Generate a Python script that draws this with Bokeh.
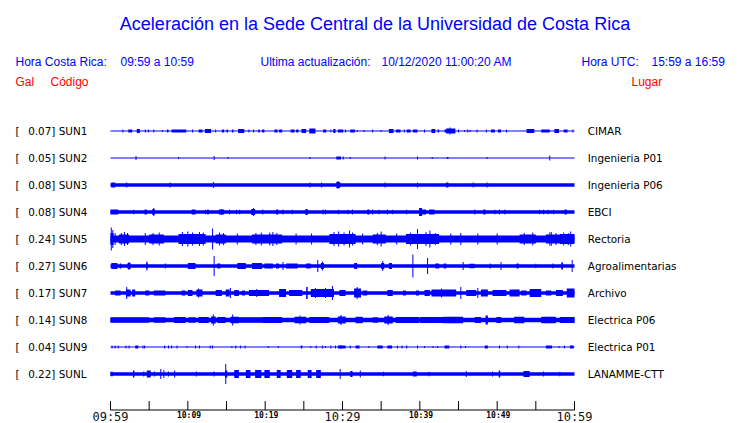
from bokeh.plotting import figure
from bokeh.models import Range1d
from bokeh.core.properties import value
from bokeh.embed import file_html
from bokeh.resources import INLINE

# ---------------- data ----------------
CODES = ["SUN1", "SUN2", "SUN3", "SUN4", "SUN5", "SUN6", "SUN7", "SUN8", "SUN9", "SUNL"]
PEAK_GAL = [0.07, 0.05, 0.08, 0.08, 0.24, 0.27, 0.17, 0.14, 0.04, 0.22]
PLACES = ["CIMAR", "Ingenieria P01", "Ingenieria P06", "EBCI", "Rectoria",
          "Agroalimentarias", "Archivo", "Electrica P06", "Electrica P01", "LANAMME-CTT"]
# background noise band (full trace amplitude, display px)
BASE_AMP = [1, 1, 3.5, 3.5, 7, 3.5, 3.5, 4.5, 1, 3.5]

# bursts: (start minute, end minute, full amplitude) ; minutes after 09:59
BURSTS_SUN1 = [(1.6, 1.6, 3), (2.3, 2.8, 3), (3.4, 3.8, 4), (4.5, 4.5, 3), (4.9, 4.9, 3), (5.6, 5.6, 3),
               (6.7, 6.7, 2), (7.3, 7.5, 3), (7.9, 9.8, 3), (10.6, 10.6, 3), (11.4, 11.9, 3), (12.2, 13.0, 4),
               (13.6, 13.6, 3), (14.4, 14.7, 3), (15.0, 15.2, 3), (15.7, 15.9, 3), (16.5, 17.3, 4), (17.9, 17.9, 3),
               (18.5, 18.5, 3), (19.1, 19.3, 3), (19.6, 19.9, 3), (21.2, 21.6, 3), (21.8, 22.2, 3), (23.3, 23.8, 3),
               (24.0, 24.3, 3), (24.7, 25.3, 4), (25.7, 26.5, 5), (27.5, 27.9, 3), (28.5, 28.5, 3), (28.8, 29.1, 4),
               (29.4, 30.1, 3), (30.4, 30.4, 3), (31.0, 31.6, 3), (31.9, 31.9, 2), (32.8, 32.8, 2), (33.9, 33.9, 3),
               (35.0, 35.0, 2), (36.0, 36.6, 4), (36.9, 37.5, 3), (38.0, 38.0, 3), (38.3, 38.8, 3), (39.1, 39.7, 3),
               (40.6, 40.6, 3), (41.5, 42.0, 4), (42.3, 42.5, 3), (43.2, 43.4, 3), (43.4, 44.6, 5), (43.9, 43.9, 7),
               (45.0, 45.0, 3), (45.8, 45.8, 2), (46.2, 46.2, 3), (46.5, 46.5, 2), (47.4, 47.4, 3), (48.6, 48.6, 3),
               (49.2, 49.7, 3), (50.1, 50.5, 3), (51.2, 51.2, 3), (53.8, 54.8, 4), (55.7, 56.8, 3), (57.4, 58.0, 4),
               (58.6, 59.1, 3), (59.8, 59.8, 3)]
BURSTS_SUN2 = [(3.3, 3.3, 4), (8.8, 8.8, 2), (13.4, 13.4, 4), (15.2, 15.2, 2), (25.8, 25.8, 2), (29.2, 29.8, 3),
               (30.1, 30.1, 3), (31.0, 31.0, 2), (35.5, 35.5, 3), (39.7, 39.7, 3), (41.6, 41.6, 2), (43.5, 43.7, 2),
               (48.7, 48.7, 2), (56.8, 56.8, 5)]
BURSTS_SUN3 = [(0.1, 0.6, 5), (2.1, 2.1, 5), (7.7, 7.7, 5), (13.3, 13.3, 6), (25.8, 25.8, 5), (27.3, 27.3, 5),
               (29.2, 29.7, 6), (29.4, 29.4, 8), (35.5, 35.5, 5), (39.7, 39.7, 5), (43.4, 43.7, 5), (46.9, 46.9, 5),
               (48.7, 48.7, 5)]
BURSTS_SUN4 = [(0.0, 1.0, 5), (3.0, 3.0, 4.5), (4.4, 4.7, 5), (5.4, 5.7, 6), (5.6, 5.6, 8), (10.5, 11.0, 5),
               (12.3, 12.3, 4.5), (12.5, 12.7, 5), (14.0, 14.7, 5), (14.4, 14.4, 6), (15.4, 15.4, 5), (16.3, 16.3, 4.5),
               (16.7, 16.7, 4.5), (18.2, 18.7, 6), (18.5, 18.5, 8), (19.7, 19.7, 5), (21.4, 21.7, 5), (22.3, 22.3, 5),
               (23.5, 23.5, 4.5), (25.2, 25.5, 6), (27.5, 27.5, 5), (27.8, 27.8, 5), (29.5, 29.5, 4.5), (30.7, 30.7, 4.5),
               (31.3, 31.3, 5), (33.2, 33.5, 5), (33.9, 33.9, 5), (34.7, 34.7, 4.5), (35.8, 35.8, 5), (36.5, 36.5, 4.5),
               (38.3, 38.3, 4.5), (39.9, 40.3, 8), (40.3, 40.8, 5), (41.2, 41.9, 5), (47.1, 47.1, 5), (48.2, 48.5, 5),
               (49.7, 49.7, 4.5), (50.3, 50.3, 5), (51.0, 51.0, 5), (55.5, 55.5, 4.5), (56.0, 56.0, 4.5),
               (56.6, 56.6, 4.5), (57.3, 57.3, 4.5), (58.7, 59.0, 5)]
BURSTS_SUN5 = [(0.0, 0.4, 12), (0.1, 0.1, 23), (0.3, 0.3, 18), (0.6, 0.6, 12), (1.1, 2.4, 9), (1.8, 1.8, 14),
               (1.4, 1.4, 12), (2.2, 2.2, 12), (4.5, 4.5, 12), (5.0, 6.9, 9), (5.5, 5.5, 12), (6.3, 6.3, 13),
               (8.8, 12.3, 10), (9.3, 9.3, 14), (10.0, 10.0, 15), (10.6, 10.6, 13), (11.5, 11.5, 14),
               (12.0, 12.0, 13), (13.2, 13.2, 21), (13.6, 14.9, 9), (14.1, 14.1, 13), (14.6, 14.6, 12),
               (16.4, 16.4, 11), (18.3, 20.0, 9), (18.8, 18.8, 12), (19.5, 19.5, 13), (20.0, 22.2, 9),
               (20.6, 20.6, 13), (21.0, 21.0, 14), (21.5, 21.5, 12), (24.0, 24.0, 11), (26.0, 26.0, 11),
               (28.3, 31.7, 10), (28.9, 28.9, 14), (29.5, 29.5, 15), (30.2, 30.2, 13), (30.9, 30.9, 17),
               (31.3, 31.3, 13), (32.6, 32.6, 11), (33.9, 35.6, 9), (34.5, 34.5, 12), (35.0, 35.0, 15),
               (37.0, 37.0, 11), (38.2, 40.3, 10), (38.8, 38.8, 13), (39.7, 39.7, 20), (40.3, 42.5, 10),
               (40.8, 40.8, 14), (41.3, 41.3, 17), (42.0, 42.0, 12), (44.0, 44.0, 11), (45.3, 45.3, 12),
               (47.5, 47.5, 11), (50.0, 50.0, 11), (52.9, 55.0, 9), (53.5, 53.5, 12), (54.6, 54.6, 13),
               (56.3, 58.1, 9), (56.8, 56.8, 13), (57.0, 57.0, 14), (57.6, 57.6, 12), (58.1, 60.0, 10),
               (58.6, 58.6, 13), (59.2, 59.2, 12), (59.5, 59.5, 15)]
BURSTS_SUN6 = [(0.1, 0.9, 6), (1.2, 1.4, 5), (2.2, 2.6, 6), (2.4, 2.4, 8), (4.6, 4.8, 6), (4.7, 4.7, 9),
               (7.1, 7.1, 5), (10.0, 11.0, 6), (13.4, 13.4, 20), (13.8, 14.2, 5), (16.4, 17.5, 6), (18.3, 19.6, 6),
               (19.9, 21.0, 5), (21.4, 21.8, 5), (22.3, 22.3, 8), (22.7, 24.2, 5), (25.3, 25.9, 5), (26.8, 26.8, 12),
               (27.2, 27.6, 6), (27.4, 27.4, 9), (31.5, 31.9, 6), (35.0, 35.4, 6), (35.2, 35.2, 10), (36.0, 36.4, 6),
               (39.1, 39.1, 23), (41.0, 41.0, 16), (42.0, 42.5, 5), (43.1, 43.4, 5), (45.6, 45.6, 8),
               (46.4, 47.1, 4.5), (49.1, 49.1, 5), (50.5, 50.5, 8), (52.5, 52.8, 5), (55.0, 55.0, 4.5),
               (57.2, 57.2, 5), (58.3, 58.5, 6), (58.4, 58.4, 8), (59.7, 59.7, 12)]
BURSTS_SUN7 = [(0.6, 1.3, 5), (2.0, 2.6, 7), (2.1, 2.1, 12), (2.8, 3.2, 7), (4.5, 5.0, 5), (5.6, 7.1, 5),
               (9.2, 9.7, 5), (10.0, 10.6, 6), (11.1, 11.9, 7), (11.4, 11.4, 9), (13.6, 14.4, 6), (14.9, 15.4, 7),
               (15.5, 15.5, 10), (16.0, 16.6, 6), (17.0, 17.4, 5), (17.9, 20.0, 6), (18.9, 18.9, 8), (19.7, 20.5, 6),
               (21.8, 22.7, 8), (23.1, 24.8, 6), (25.3, 25.5, 12), (25.9, 28.9, 8), (26.5, 26.5, 10), (27.8, 27.8, 10),
               (28.7, 28.7, 14), (29.6, 30.4, 6), (31.5, 32.4, 9), (31.9, 31.9, 12), (32.6, 33.2, 5), (35.8, 36.5, 6),
               (37.8, 38.2, 5), (39.5, 39.9, 5), (40.6, 41.3, 6), (41.5, 44.7, 7), (42.8, 42.8, 9), (45.3, 45.3, 12),
               (46.0, 47.3, 6), (47.5, 47.5, 10), (47.9, 48.8, 7), (49.4, 51.2, 6), (51.6, 52.9, 7), (53.1, 53.8, 5),
               (54.2, 55.7, 8), (56.3, 57.0, 5), (57.6, 58.5, 6), (59.0, 60.0, 9)]
BURSTS_SUN8 = [(0.0, 5.0, 5.5), (5.6, 7.1, 5.5), (8.2, 9.7, 6), (10.1, 11.0, 5.5), (11.4, 12.7, 6), (13.0, 13.6, 7),
               (13.3, 13.3, 11), (13.8, 14.9, 6), (15.5, 16.6, 6.5), (15.8, 15.8, 11), (16.6, 20.0, 5.5),
               (19.7, 22.2, 6), (23.8, 25.3, 6.5), (24.5, 24.5, 9), (25.7, 28.3, 6), (29.4, 30.4, 7), (29.8, 29.8, 10),
               (31.7, 32.6, 6.5), (33.9, 34.6, 5.5), (35.4, 36.5, 7), (35.9, 35.9, 10), (36.9, 39.9, 6),
               (40.0, 43.0, 6), (43.0, 45.6, 6.5), (47.1, 47.9, 6), (48.5, 48.8, 9), (49.9, 50.5, 6), (52.2, 53.5, 6.5),
               (55.7, 57.6, 6.5), (58.1, 60.0, 6)]
BURSTS_SUN9 = [(0.2, 0.2, 3), (0.6, 0.6, 3), (1.0, 1.0, 3), (2.0, 2.0, 3), (2.4, 2.4, 3), (3.2, 3.6, 3), (4.2, 4.2, 3),
               (4.4, 4.4, 3), (7.0, 7.0, 3), (7.5, 7.5, 3), (7.9, 7.9, 3), (8.6, 8.6, 3), (9.9, 9.9, 2), (11.0, 11.0, 3),
               (11.5, 11.5, 3), (12.9, 12.9, 3), (13.2, 13.2, 3), (15.7, 15.7, 2), (16.2, 16.2, 3), (16.8, 16.8, 3),
               (17.4, 17.4, 3), (20.4, 20.4, 2), (21.7, 21.7, 2), (24.6, 24.8, 3), (25.9, 25.9, 2), (26.6, 26.6, 3),
               (27.4, 27.4, 3), (27.8, 27.8, 2), (28.5, 28.5, 3), (29.1, 29.1, 3), (29.4, 30.4, 3), (29.8, 29.8, 4),
               (31.0, 31.0, 3), (31.7, 32.2, 3), (33.4, 33.4, 2), (34.5, 35.2, 3), (35.8, 36.4, 3), (37.1, 37.1, 3),
               (37.7, 37.7, 3), (38.3, 38.3, 3), (39.7, 39.7, 3), (40.6, 40.6, 2), (41.7, 41.7, 2), (42.3, 42.3, 2),
               (43.2, 43.8, 3), (45.3, 45.3, 3), (45.9, 45.9, 2), (48.4, 48.8, 3), (50.3, 50.3, 3), (51.3, 51.3, 3),
               (52.8, 52.8, 3), (56.3, 57.1, 3), (58.0, 58.0, 2), (58.7, 58.7, 3), (59.4, 59.9, 3)]
BURSTS_SUNL = [(0.0, 0.3, 4.5), (2.9, 3.1, 7), (4.3, 4.3, 5), (4.7, 5.2, 7), (5.7, 5.7, 5), (6.5, 6.5, 10),
               (6.9, 6.9, 8), (7.5, 7.5, 5), (8.3, 8.3, 7), (11.1, 11.1, 5), (13.4, 13.4, 5), (14.8, 15.1, 7),
               (14.9, 14.9, 20), (16.0, 16.6, 8), (17.5, 18.1, 8), (18.7, 19.5, 8), (19.9, 20.6, 8), (21.5, 22.0, 8),
               (22.8, 23.5, 8), (24.0, 24.6, 8), (25.5, 26.0, 8), (26.6, 27.2, 8), (29.7, 29.7, 10), (31.0, 31.3, 6),
               (32.3, 32.3, 7), (35.3, 35.3, 4.5), (39.1, 39.6, 5), (41.2, 41.2, 4.5), (46.0, 46.0, 6),
               (49.4, 49.4, 5), (50.2, 50.4, 7), (53.4, 54.2, 6), (56.0, 56.0, 5), (58.1, 58.1, 4.5)]
ALL_BURSTS = [BURSTS_SUN1, BURSTS_SUN2, BURSTS_SUN3, BURSTS_SUN4, BURSTS_SUN5,
              BURSTS_SUN6, BURSTS_SUN7, BURSTS_SUN8, BURSTS_SUN9, BURSTS_SUNL]

WINDOW_MIN = [0, 60]
TICK_MIN = [0, 5, 10, 15, 20, 25, 30, 35, 40, 45, 50, 55, 60]
LABEL_MIN = [0, 10, 20, 30, 40, 50, 60]
LABEL_TXT = ["09:59", "10:09", "10:19", "10:29", "10:39", "10:49", "10:59"]
LABEL_BIG = [True, False, False, True, False, False, True]

TITLE = "Aceleración en la Sede Central de la Universidad de Costa Rica"

# ---------------- layout ----------------
W, H = 740, 423
PX_PER_MIN = 464 / 60.0
ROW_PX = 27.0
X0_IMG, ROW0_IMG = 110.0, 130.5


def dx(img_x):
    return (img_x - X0_IMG) / PX_PER_MIN


def dy(img_y):
    return (img_y - ROW0_IMG) / ROW_PX


p = figure(width=W, height=H, x_range=Range1d(dx(0), dx(W)),
           y_range=Range1d(dy(H), dy(0)), output_backend="svg",
           toolbar_location=None, min_border=0, x_axis_type=None, y_axis_type=None)
p.outline_line_color = None
p.background_fill_color = "white"
p.border_fill_color = "white"

BLUE = "#0000ff"
RED = "#ff0000"
SANS = value("Liberation Sans")
DJ = value("DejaVu Sans")
MONO = value("DejaVu Sans Mono")

# traces
L, R, T, B = [], [], [], []
min_w = 1.0 / PX_PER_MIN
for i, bursts in enumerate(ALL_BURSTS):
    half = BASE_AMP[i] / 2.0 / ROW_PX
    L.append(WINDOW_MIN[0]); R.append(WINDOW_MIN[1]); T.append(i - half); B.append(i + half)
    for t0, t1, h in bursts:
        if t1 <= t0:
            l, r = t0 - min_w / 2, t0 + min_w / 2
        else:
            l, r = t0, t1
        half = h / 2.0 / ROW_PX
        L.append(max(l, WINDOW_MIN[0])); R.append(min(r, WINDOW_MIN[1])); T.append(i - half); B.append(i + half)
p.quad(left=L, right=R, top=T, bottom=B, fill_color=BLUE, line_color=None)

# title / header
p.text(x=[dx(374.5)], y=[dy(23.5)], text=[TITLE], text_font=SANS, text_font_size="18px",
       text_color=BLUE, text_align="center", text_baseline="middle")
hdr_x = [15, 120, 260, 381, 581, 651]
hdr_t = ["Hora Costa Rica:", "09:59 a 10:59", "Ultima actualización:", "10/12/2020 11:00:20 AM",
         "Hora UTC:", "15:59 a 16:59"]
p.text(x=[dx(v) for v in hdr_x], y=[dy(61.2)] * len(hdr_x), text=hdr_t, text_font=SANS,
       text_font_size="12px", text_color=BLUE, text_align="left", text_baseline="middle")
p.text(x=[dx(15), dx(50), dx(631)], y=[dy(81.5)] * 3, text=["Gal", "Código", "Lugar"], text_font=SANS,
       text_font_size="12px", text_color=RED, text_align="left", text_baseline="middle")

# row labels
rows = list(range(len(CODES)))
p.text(x=[dx(15)] * len(rows), y=rows, text=["["] * len(rows), text_font=DJ, text_font_size="10.4px",
       text_color="black", text_align="left", text_baseline="middle")
p.text(x=[dx(27.7)] * len(rows), y=rows, text=["%.2f] %s" % (g, c) for g, c in zip(PEAK_GAL, CODES)],
       text_font=DJ, text_font_size="10.4px", text_color="black", text_align="left", text_baseline="middle")
p.text(x=[dx(587.3)] * len(rows), y=rows, text=PLACES, text_font=DJ, text_font_size="10.4px",
       text_color="black", text_align="left", text_baseline="middle")

# time axis
ax_y = dy(409.5)
p.segment(x0=[WINDOW_MIN[0]], x1=[WINDOW_MIN[1]], y0=[ax_y], y1=[ax_y], line_color="black", line_width=1)
p.segment(x0=TICK_MIN, x1=TICK_MIN, y0=[dy(400.5)] * len(TICK_MIN), y1=[ax_y] * len(TICK_MIN),
          line_color="black", line_width=1)
big_x = [m for m, b in zip(LABEL_MIN, LABEL_BIG) if b]
big_t = [t for t, b in zip(LABEL_TXT, LABEL_BIG) if b]
sm_x = [m for m, b in zip(LABEL_MIN, LABEL_BIG) if not b]
sm_t = [t for t, b in zip(LABEL_TXT, LABEL_BIG) if not b]
p.text(x=big_x, y=[dy(416.3)] * len(big_x), text=big_t, text_font=MONO, text_font_size="12px",
       text_color="#111111", text_align="center", text_baseline="middle")
p.text(x=[m + 0.15 for m in sm_x], y=[dy(415.0)] * len(sm_x), text=sm_t, text_font=MONO, text_font_size="8px",
       text_font_style="bold", text_color="black", text_align="center", text_baseline="middle")

open("out.html", "w").write(file_html(p, INLINE))
